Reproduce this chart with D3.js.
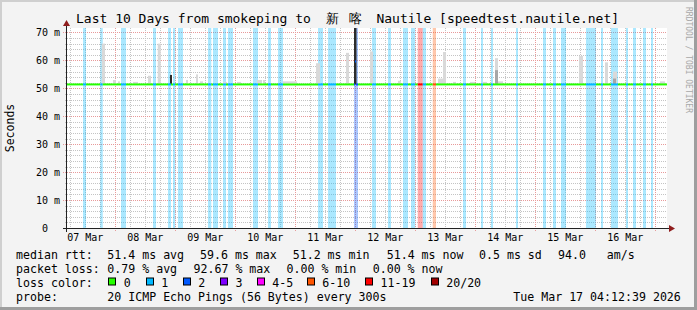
<!DOCTYPE html>
<html>
<head>
<meta charset="utf-8">
<script src="https://cdn.jsdelivr.net/npm/d3@7"></script>
<style>
  html, body { margin: 0; padding: 0; background: #fff; }
  text { font-family: "DejaVu Sans Mono", monospace; white-space: pre; }
</style>
</head>
<body>
<div id="chart"></div>
<script>
// time window (hours are counted from the left edge of the graph)
const startTime = Date.UTC(2026, 2, 7, 4, 42)
const spanHours = 240

// loss bands: start hour, duration (h), loss class index
const bandStart = [6.4, 13.3, 21.6, 34.4, 40.4, 42.4, 44.4, 56.4, 58.4, 62.4, 64.4, 74.4, 80.4, 84.4,
  100.4, 104.4, 114.8, 122.0, 128.4, 134.4, 137.6, 140.3, 142.3, 146.3, 158.4, 165.6, 169.6, 179.6,
  190.4, 194.4, 197.6, 207.6, 213.6, 217.6, 223.6, 226.4, 230.4, 233.6]
const bandHours = [1.2, 1.0, 2.0, 1.2, 1.2, 0.9, 2.0, 1.3, 2.0, 1.2, 2.0, 2.0, 1.2, 2.0,
  2.0, 3.2, 1.6, 1.6, 1.2, 2.0, 1.7, 2.0, 1.3, 1.3, 1.2, 0.8, 0.8, 0.8,
  1.2, 1.2, 2.0, 4.0, 0.8, 2.8, 0.8, 1.2, 1.2, 0.8]
const bandLoss = [1, 1, 1, 1, 1, 1, 1, 1, 1, 1, 1, 1, 1, 1,
  1, 1, 2, 1, 1, 1, 1, 6, 1, 5, 1, 1, 1, 1,
  1, 1, 1, 1, 1, 1, 1, 1, 1, 1]

// median rtt (ms), one value per step
const medianHours = [0, 115.2, 115.6, 240]
const medianMs = [51.4, 59.6, 51.4, 51.4]

// smoke, outer pings (hour, duration, highest ping ms)
const smokeHour = [13.9, 18.4, 20.4, 26.4, 32.4, 36.3, 47.6, 51.6, 53.2, 62.4, 68.0, 76.0, 78.4,
  86.4, 99.6, 111.6, 121.2, 132.4, 148.4, 150.4, 154.4, 161.2, 166.4, 171.2, 172.4, 204.8, 215.2, 218.4, 237.2]
const smokeDur = [1.3, 1.2, 0.8, 2.0, 1.2, 1.2, 0.8, 0.8, 1.2, 1.6, 1.6, 2.0, 0.8,
  5.6, 1.6, 1.2, 1.2, 1.2, 2.0, 1.2, 1.2, 2.0, 1.6, 1.2, 2.0, 1.6, 1.2, 1.6, 2.0]
const smokeTop = [66, 53, 52.5, 52.3, 54.5, 66, 53, 55, 52.5, 52.3, 52.3, 53, 53,
  52.5, 59, 62.7, 63.2, 52.7, 53.5, 63, 52.3, 52.3, 52.3, 60.8, 52.5, 61.6, 59.3, 56, 52.5]
// smoke, middle pings
const innerHour = [171.2, 218.4]
const innerDur = [1.2, 1.2]
const innerTop = [56.5, 53.5]
// smoke, dense pings
const denseHour = [41.2, 114.8]
const denseDur = [0.8, 1.0]
const denseTop = [54.8, 80]

const yTicks = [0, 10, 20, 30, 40, 50, 60, 70]
const lossColors = ['#26ff00', '#00b8ff', '#0059ff', '#7e00ff', '#ff00ff', '#ff5500', '#ff0000', '#a10000']
const lossLabels = ['0', '1', '2', '3', '4-5', '6-10', '11-19', '20/20']

const titleParts = ['Last 10 Days from smokeping to ', '新', '喀', ' Nautile [speedtest.nautile.net]']
const statRows = [
  ['median rtt:', ['51.4 ms avg', '59.6 ms max', '51.2 ms min', '51.4 ms now', '0.5 ms sd', '94.0   am/s']],
  ['packet loss:', ['0.79 % avg', '92.67 % max', '0.00 % min', '0.00 % now']],
]
const probeText = '20 ICMP Echo Pings (56 Bytes) every 300s'
const stampText = 'Tue Mar 17 04:12:39 2026'

// layout
const width = 697
const height = 310
const plot = { left: 67, right: 667, top: 28, bottom: 228 }
const hourMs = 3600 * 1000
const at = h => new Date(startTime + h * hourMs)

const svg = d3.select('#chart').append('svg')
  .attr('width', width).attr('height', height)
  .attr('viewBox', `0 0 ${width} ${height}`)

// background + shaded frame
svg.append('rect').attr('width', width).attr('height', height).attr('fill', '#f3f3f3')
svg.append('rect').attr('x', 0).attr('y', 0).attr('width', width).attr('height', 2).attr('fill', '#cfcfcf')
svg.append('rect').attr('x', 0).attr('y', 0).attr('width', 2).attr('height', height).attr('fill', '#cfcfcf')
svg.append('rect').attr('x', width - 3).attr('y', 0).attr('width', 3).attr('height', height).attr('fill', '#9e9e9e')
svg.append('rect').attr('x', 0).attr('y', height - 3).attr('width', width).attr('height', 3).attr('fill', '#9e9e9e')

svg.append('rect')
  .attr('x', plot.left).attr('y', plot.top)
  .attr('width', plot.right - plot.left).attr('height', plot.bottom - plot.top)
  .attr('fill', '#fff')

const x = d3.scaleUtc().domain([at(0), at(spanHours)]).range([plot.left, plot.right])
const y = d3.scaleLinear().domain([0, 71.6]).range([plot.bottom, plot.top])

// grid (drawn first, the translucent loss bands lie over it)
const grid = svg.append('g').attr('shape-rendering', 'crispEdges')
const px = v => Math.round(v) + 0.5
const yMinor = d3.range(2, 72, 2).filter(v => v % 10 !== 0)
const yMajor = yTicks.filter(v => v > 0)
const xMinor = d3.utcHour.every(6).range(at(0), at(spanHours)).filter(t => t.getUTCHours() !== 0)
const xMajor = d3.utcDay.range(at(0), at(spanHours))

grid.selectAll('line.ymin').data(yMinor).join('line')
  .attr('class', 'ymin')
  .attr('x1', plot.left - 2).attr('x2', plot.right)
  .attr('y1', d => px(y(d))).attr('y2', d => px(y(d)))
  .attr('stroke', '#c4c4c4').attr('stroke-dasharray', '1,1')
grid.selectAll('line.xmin').data(xMinor).join('line')
  .attr('class', 'xmin')
  .attr('x1', d => px(x(d))).attr('x2', d => px(x(d)))
  .attr('y1', plot.top).attr('y2', plot.bottom + 2)
  .attr('stroke', '#c4c4c4').attr('stroke-dasharray', '1,1')
grid.selectAll('line.ymaj').data(yMajor).join('line')
  .attr('class', 'ymaj')
  .attr('x1', plot.left - 4).attr('x2', plot.right)
  .attr('y1', d => px(y(d))).attr('y2', d => px(y(d)))
  .attr('stroke', '#e89a9a').attr('stroke-dasharray', '1,1')
grid.selectAll('line.xmaj').data(xMajor).join('line')
  .attr('class', 'xmaj')
  .attr('x1', d => px(x(d))).attr('x2', d => px(x(d)))
  .attr('y1', plot.top).attr('y2', plot.bottom + 4)
  .attr('stroke', '#e89a9a').attr('stroke-dasharray', '1,1')

const bands = bandStart.map((s, i) => ({ s, e: s + bandHours[i], loss: bandLoss[i] }))

// loss background bands
svg.append('g').selectAll('rect')
  .data(bands)
  .join('rect')
  .attr('x', d => x(at(d.s)))
  .attr('width', d => x(at(d.e)) - x(at(d.s)))
  .attr('y', plot.top)
  .attr('height', plot.bottom - plot.top)
  .attr('fill', d => lossColors[d.loss])
  .attr('fill-opacity', 0.33)

// smoke
const medAt = h => {
  const i = d3.bisectRight(medianHours, h) - 1
  return medianMs[Math.max(0, i)]
}
const smokeLayer = (hours, durs, tops, fill) => {
  svg.append('g').selectAll('rect')
    .data(hours.map((h, i) => ({ h, d: durs[i], top: Math.min(tops[i], 71.6) })))
    .join('rect')
    .attr('x', d => x(at(d.h)))
    .attr('width', d => x(at(d.h + d.d)) - x(at(d.h)))
    .attr('y', d => y(d.top))
    .attr('height', d => y(51.4) - y(d.top))
    .attr('fill', fill)
}
smokeLayer(smokeHour, smokeDur, smokeTop, '#d9d9d9')
smokeLayer(innerHour, innerDur, innerTop, '#a6a6a6')
smokeLayer(denseHour, denseDur, denseTop, '#2b2b2b')

// median line: horizontal pieces coloured by loss
const cuts = Array.from(new Set([...medianHours, ...bands.flatMap(b => [b.s, b.e])]))
  .filter(h => h >= 0 && h <= spanHours)
  .sort((a, b) => a - b)
const pieces = d3.pairs(cuts).map(([a, b]) => {
  const mid = (a + b) / 2
  const band = bands.find(bd => mid > bd.s && mid < bd.e)
  return { a, b, v: medAt(mid), loss: band ? band.loss : 0 }
})
svg.append('g').selectAll('path')
  .data(pieces)
  .join('path')
  .attr('d', d => `M${x(at(d.a))},${y(d.v)}H${x(at(d.b))}`)
  .attr('fill', 'none')
  .attr('stroke', d => lossColors[d.loss])
  .attr('stroke-width', 2)

// axes
const axisColor = '#222'
const arrowColor = '#8f1d1d'
svg.append('line')
  .attr('x1', plot.left - 4).attr('x2', plot.right + 3)
  .attr('y1', plot.bottom + 0.5).attr('y2', plot.bottom + 0.5)
  .attr('stroke', axisColor)
svg.append('line')
  .attr('x1', plot.left - 0.5).attr('x2', plot.left - 0.5)
  .attr('y1', plot.bottom + 4).attr('y2', plot.top - 3)
  .attr('stroke', axisColor)
svg.append('path')
  .attr('d', `M${plot.right + 2},${plot.bottom - 3}L${plot.right + 8},${plot.bottom + 0.5}L${plot.right + 2},${plot.bottom + 4}Z`)
  .attr('fill', arrowColor)
svg.append('path')
  .attr('d', `M${plot.left - 4},${plot.top - 2}L${plot.left - 0.5},${plot.top - 8}L${plot.left + 3},${plot.top - 2}Z`)
  .attr('fill', arrowColor)

// tick labels
svg.append('g').selectAll('text')
  .data(yTicks)
  .join('text')
  .attr('x', plot.left - 7)
  .attr('y', d => y(d))
  .attr('dy', '0.35em')
  .attr('text-anchor', 'end')
  .attr('font-size', 10)
  .text(d => d === 0 ? '0  ' : `${d} m`)

const dayLabels = d3.utcDay.range(d3.utcDay.floor(at(0)), at(spanHours))
  .map(t => d3.utcHour.offset(t, 12))
  .filter(t => t >= at(0) && t <= at(spanHours))
svg.append('g').selectAll('text')
  .data(dayLabels)
  .join('text')
  .attr('x', d => x(d))
  .attr('y', plot.bottom + 13)
  .attr('text-anchor', 'middle')
  .attr('font-size', 10)
  .text(d => d3.utcFormat('%d %b')(d))

// y-axis title
svg.append('text')
  .attr('transform', `translate(14,${(plot.top + plot.bottom) / 2}) rotate(-90)`)
  .attr('text-anchor', 'middle')
  .attr('font-size', 11.5)
  .text('Seconds')

// title (the two CJK glyphs get the room of the wide boxes in the original)
const title = svg.append('text')
  .attr('x', 76)
  .attr('y', 23)
  .attr('font-size', 13)
title.selectAll('tspan')
  .data(titleParts)
  .join('tspan')
  .attr('dx', (d, i) => [0, 7, 10, 7][i])
  .text(d => d)

// watermark
svg.append('text')
  .attr('transform', `translate(686,60) rotate(90)`)
  .attr('text-anchor', 'middle')
  .attr('font-size', 8)
  .attr('fill', '#a8a8a8')
  .text('RRDTOOL / TOBI OETIKER')

// legend
const legend = svg.append('g').attr('font-size', 11.6)
const colX = [107.3, 200, 292.7, 386.7, 479, 558]
const colX2 = [107.3, 193.5, 286.5, 372.7]
const rowY = [258.5, 272.5, 286.5, 300.5]

statRows.forEach(([label, vals], r) => {
  legend.append('text').attr('x', 16).attr('y', rowY[r]).text(label)
  legend.selectAll(null).data(vals).join('text')
    .attr('x', (d, i) => (r === 0 ? colX : colX2)[i])
    .attr('y', rowY[r])
    .text(d => d)
})

legend.append('text').attr('x', 16).attr('y', rowY[2]).text('loss color:')
const swatchX = [108.3, 145.7, 182.7, 220, 256.7, 306.7, 365, 430.7]
const sw = legend.selectAll('g.sw').data(lossLabels).join('g').attr('class', 'sw')
sw.append('rect')
  .attr('x', (d, i) => Math.round(swatchX[i]) + 0.5)
  .attr('y', rowY[2] - 8.5)
  .attr('width', 7).attr('height', 7)
  .attr('fill', (d, i) => lossColors[i])
  .attr('stroke', '#000')
sw.append('text')
  .attr('x', (d, i) => swatchX[i] + 15.5)
  .attr('y', rowY[2])
  .text(d => d)

legend.append('text').attr('x', 16).attr('y', rowY[3]).text('probe:')
legend.append('text').attr('x', 107.3).attr('y', rowY[3]).text(probeText)
legend.append('text').attr('x', 513.3).attr('y', rowY[3]).text(stampText)
</script>
</body>
</html>
